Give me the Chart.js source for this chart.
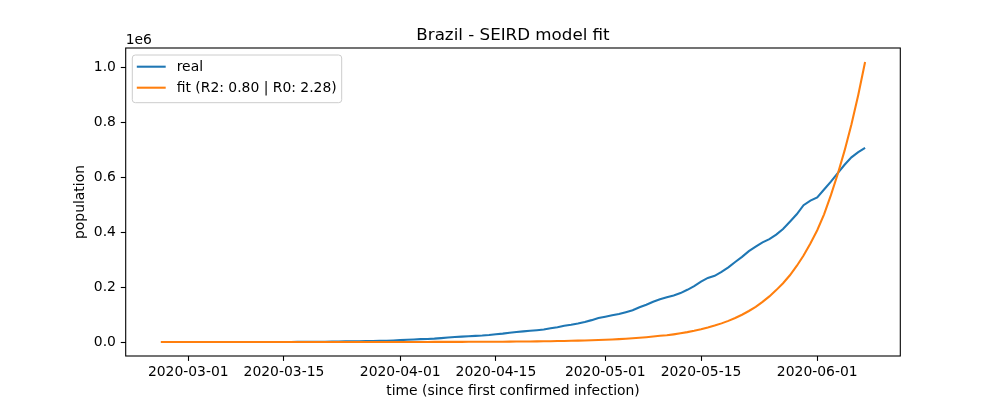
<!DOCTYPE html>
<html>
<head>
<meta charset="utf-8">
<script src="https://cdn.jsdelivr.net/npm/chart.js@4.4.1/dist/chart.umd.min.js"></script>
<style>
  html, body { margin: 0; padding: 0; background: #fff; }
  #wrap { width: 1000px; height: 400px; }
</style>
</head>
<body>
<div id="wrap"><canvas id="fitChart" width="1000" height="400"></canvas></div>
<script>
// Brazil - SEIRD model fit

const startDate = '2020-02-26';
const xTickDates = ['2020-03-01', '2020-03-15', '2020-04-01', '2020-04-15', '2020-05-01', '2020-05-15', '2020-06-01'];
const yTicks = [0, 0.2, 0.4, 0.6, 0.8, 1.0];

// cumulative confirmed cases, one per day from startDate
const realCases = [
    1, 1, 1, 2,
    2, 2, 2, 4, 4, 13, 13, 20, 25, 31, 38, 52, 151, 151, 162, 200,
    321, 372, 621, 793, 1021, 1546, 1924, 2247, 2554, 2985, 3417, 3904, 4256, 4579, 5717,
    6836, 8044, 9056, 10360, 11130, 12161, 14034, 16170, 18092, 19638, 20727, 22192, 23430, 25262, 28320,
    30425, 33682, 36658, 38654, 40743, 43079, 45757, 50036, 54043, 59324, 63100, 67446, 73235, 79685, 87187,
    92202, 97100, 101826, 108620, 115455, 126611, 135773, 146894, 156061, 162699, 169594, 178214, 190137, 203165, 220291,
    233511, 241080, 255368, 271885, 291579, 310087, 330890, 347398, 363211, 374898, 391222, 411821, 438238, 465166, 498440, 514849,
    526447, 555383, 584016, 614941, 645771, 672846, 691758, 707412
];

// model curve, same days
const fitCases = [
    2, 2, 2, 3,
    3, 4, 4, 5, 6, 7, 8, 9, 10, 11, 13, 14, 16, 19, 21, 24,
    27, 31, 35, 40, 45, 51, 58, 66, 75, 85, 96, 109, 124, 141, 160,
    181, 206, 233, 265, 301, 342, 388, 440, 500, 570, 640, 730, 830, 940, 1070,
    1210, 1380, 1570, 1780, 2020, 2290, 2600, 2960, 3360, 3810, 4330, 4920, 5580, 6340, 7200,
    8170, 9280, 10500, 12000, 13600, 15400, 17500, 19900, 22600, 24500, 27800, 31600, 35900, 40800, 46300,
    52600, 59700, 67800, 77000, 87500, 99400, 113000, 128000, 146000, 166000, 189000, 214000, 243000, 277000, 315000, 359000,
    407000, 465000, 535000, 612000, 697000, 792000, 900000, 1020000
];

const DAY = 86400000;
const origin = Date.parse('2020-03-01T00:00:00Z');
function dayOf(dateStr) { return (Date.parse(dateStr + 'T00:00:00Z') - origin) / DAY; }
function dateOf(day) { return new Date(origin + day * DAY).toISOString().slice(0, 10); }

const firstDay = dayOf(startDate);
const toPoints = arr => arr.map((v, i) => ({ x: firstDay + i, y: v }));

const lastDay = firstDay + realCases.length - 1;
const xPad = (lastDay - firstDay) * 0.05;
const yMax = Math.max(...fitCases, ...realCases);
const yPad = yMax * 0.05;

const FONT = 'DejaVu Sans';
const tickFont = { family: FONT, size: 13.9 };

// title, offset text, frame and legend drawn like matplotlib
const mplDecor = {
    id: 'mplDecor',
    afterDraw(chart) {
        const { ctx, chartArea: a } = chart;
        ctx.save();
        ctx.strokeStyle = '#000';
        ctx.lineWidth = 1.1;
        ctx.strokeRect(a.left, a.top, a.right - a.left, a.bottom - a.top);

        ctx.fillStyle = '#000';
        ctx.font = `16.7px "${FONT}"`;
        ctx.textAlign = 'center';
        ctx.textBaseline = 'alphabetic';
        ctx.fillText('Brazil - SEIRD model fit', (a.left + a.right) / 2, a.top - 8);

        ctx.font = `13.9px "${FONT}"`;
        ctx.textAlign = 'left';
        ctx.fillText('1e6', a.left, a.top - 4);

        // legend
        const bx = a.left + 6.6, by = a.top + 7, bw = 209.4, bh = 47.7;
        ctx.beginPath();
        ctx.roundRect(bx, by, bw, bh, 3);
        ctx.fillStyle = 'rgba(255,255,255,0.8)';
        ctx.fill();
        ctx.strokeStyle = '#cccccc';
        ctx.lineWidth = 1;
        ctx.stroke();
        ctx.textBaseline = 'middle';
        chart.data.datasets.forEach((ds, i) => {
            const ry = by + 11.7 + i * 21;
            ctx.beginPath();
            ctx.moveTo(bx + 4.5, ry);
            ctx.lineTo(bx + 33.4, ry);
            ctx.strokeStyle = ds.borderColor;
            ctx.lineWidth = 2.08;
            ctx.stroke();
            ctx.fillStyle = '#000';
            ctx.fillText(ds.label, bx + 44.4, ry + 1);
        });
        ctx.restore();
    }
};

new Chart(document.getElementById('fitChart'), {
    type: 'line',
    data: {
        datasets: [
            { label: 'real', data: toPoints(realCases), borderColor: '#1f77b4', borderWidth: 2.08, pointRadius: 0, tension: 0, order: 1 },
            { label: 'fit (R2: 0.80 | R0: 2.28)', data: toPoints(fitCases), borderColor: '#ff7f0e', borderWidth: 2.08, pointRadius: 0, tension: 0, order: 0 }
        ]
    },
    options: {
        responsive: false,
        animation: false,
        devicePixelRatio: 1,
        layout: { padding: { top: 48, right: 99.7, left: 0, bottom: 0 } },
        plugins: { legend: { display: false }, title: { display: false }, tooltip: { enabled: false } },
        scales: {
            x: {
                type: 'linear',
                min: firstDay - xPad,
                max: lastDay + xPad,
                afterFit: s => { s.height = 44; },
                afterBuildTicks: s => { s.ticks = xTickDates.map(d => ({ value: dayOf(d) })); },
                grid: { display: true, drawOnChartArea: false, tickLength: 4.9, color: '#000', tickWidth: 1.1 },
                border: { display: false },
                ticks: { color: '#000', font: tickFont, padding: 3, maxRotation: 0, autoSkip: false, callback: v => dateOf(v) },
                title: { display: true, text: 'time (since first confirmed infection)', color: '#000', font: tickFont, padding: { top: 0, bottom: 0.7 } }
            },
            y: {
                type: 'linear',
                min: -yPad,
                max: yMax + yPad,
                afterFit: s => { s.width = 125.7; },
                afterBuildTicks: s => { s.ticks = yTicks.map(v => ({ value: v * 1e6 })); },
                grid: { display: true, drawOnChartArea: false, tickLength: 4.9, color: '#000', tickWidth: 1.1 },
                border: { display: false },
                ticks: { color: '#000', font: tickFont, padding: 4.9, callback: v => (v / 1e6).toFixed(1) },
                title: { display: true, text: 'population', color: '#000', font: tickFont, padding: { top: 71.7, bottom: 0 } }
            }
        }
    },
    plugins: [mplDecor]
});
</script>
</body>
</html>
